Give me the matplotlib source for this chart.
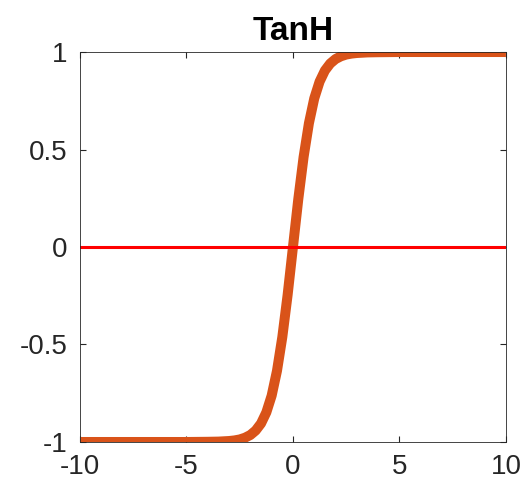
import matplotlib
matplotlib.use("Agg")
import matplotlib.pyplot as plt

# curve values
x_vals = [-10, -5, -4, -3.5, -3, -2.75, -2.5, -2.25, -2, -1.75, -1.5, -1.25, -1, -0.75,
          -0.5, -0.25, 0, 0.25, 0.5, 0.75, 1, 1.25, 1.5, 1.75, 2, 2.25, 2.5, 2.75,
          3, 3.5, 4, 5, 10]
y_vals = [-1.0, -1.0, -0.999, -0.998, -0.995, -0.992, -0.987, -0.978, -0.964, -0.941,
          -0.905, -0.848, -0.762, -0.635, -0.462, -0.245, 0.0, 0.245, 0.462, 0.635,
          0.762, 0.848, 0.905, 0.941, 0.964, 0.978, 0.987, 0.992, 0.995, 0.998,
          0.999, 1.0, 1.0]
zero_x = [-10, 10]
zero_y = [0, 0]

x_ticks = [-10, -5, 0, 5, 10]
x_labels = ["-10", "-5", "0", "5", "10"]
y_ticks = [-1, -0.5, 0, 0.5, 1]
y_labels = ["-1", "-0.5", "0", "0.5", "1"]

plt.rcParams['font.family'] = ['Liberation Sans', 'DejaVu Sans']
plt.rcParams['axes.unicode_minus'] = False

fig = plt.figure(figsize=(5.27, 4.83), dpi=100)
ax = fig.add_axes([0.1518, 0.0849, 0.8082, 0.8074])

ax.plot(x_vals, y_vals, color='#D95319', linewidth=7.2, solid_capstyle='butt')
ax.plot(zero_x, zero_y, color='#FF0000', linewidth=2.2)

ax.set_xlim(-10, 10)
ax.set_ylim(-1, 1)
ax.set_xticks(x_ticks)
ax.set_xticklabels(x_labels)
ax.set_yticks(y_ticks)
ax.set_yticklabels(y_labels)
ax.tick_params(direction='in', length=4, width=0.8, top=True, right=True,
               labelsize=20, colors='#262626')
ax.tick_params(axis='x', pad=9)
ax.tick_params(axis='y', pad=9)
for s in ax.spines.values():
    s.set_color('#262626')
    s.set_linewidth(0.6)

ax.set_title("TanH", fontsize=24, fontweight='bold', pad=9)

fig.savefig("out.png", dpi=100)
